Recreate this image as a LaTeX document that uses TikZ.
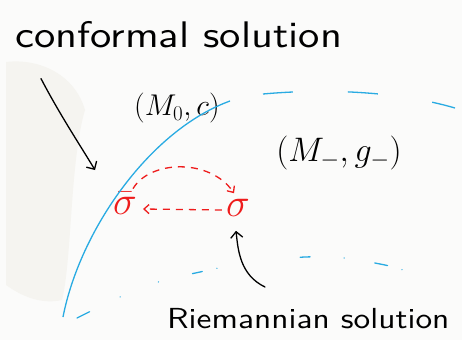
\RequirePackage{fix-cm}
\documentclass[tikz,border=0pt]{standalone}
\usepackage{amsmath,amssymb}
\usepackage{fontspec}
\usepackage{tikz}
\usetikzlibrary{arrows.meta,positioning,calc}
\usepackage{xcolor}

\newfontfamily\handfont[FakeStretch=1.15]{lmsans10-regular.otf}

\definecolor{skyline}{HTML}{29ABE2}
\definecolor{redpen}{HTML}{EE1C1C}
\definecolor{paper}{HTML}{FBFBFA}
\definecolor{smudge}{HTML}{F5F4F0}

\begin{document}
\begin{tikzpicture}[
    x=1pt, y=-1pt,
    hand/.style={font=\handfont\fontsize{#1}{#1}\selectfont, inner sep=0pt, anchor=base west},
    lab/.style={font=\fontsize{#1}{#1}\selectfont, inner sep=0pt},
    ink/.style={black, line width=1.3pt, line cap=round},
    redarrow/.style={redpen, line width=1.3pt, dash pattern=on 7pt off 6pt, -{Straight Barb[length=5pt,width=9pt]}},
    >=Stealth
]
    % paper and smudge
    \fill[paper] (0,0) rectangle (462,340);
    \fill[smudge] (6,62) .. controls (40,58) and (75,75) .. (85,110)
        .. controls (70,160) and (72,260) .. (62,300)
        .. controls (40,305) and (20,295) .. (6,285) -- cycle;
    \useasboundingbox (0,0) rectangle (462,340);

    % texts
    \node[hand=37] (conftext) at (15,47) {conformal solution};
    \node[hand=29] (riemtext) at (167,328) {Riemannian solution};
    \node[lab=30] (mzero) at (177,108) {$(M_0,c)$};
    \node[lab=34] (mminus) at (339,153) {$(M_-,g_-)$};

    % sigmas
    \node[lab=40, text=redpen] (sigbar) at (125,203) {$\bar\sigma$};
    \node[lab=40, text=redpen] (sig) at (238,208) {$\sigma$};

    % boundary of the region
    \draw[skyline, line width=1.3pt] (63,317) .. controls (80,230) and (150,130) .. (230,101);
    \draw[skyline, line width=1.3pt, dash pattern=on 30pt off 55pt]
        (263,94) .. controls (330,88) and (400,92) .. (455,108);
    \draw[skyline, line width=1.3pt, line cap=round, dash pattern=on 14pt off 34pt on 0.1pt off 41pt on 0.1pt off 35pt on 10pt off 15pt on 0.1pt off 84pt on 10pt off 34pt on 0.1pt off 31pt on 13pt off 15pt on 0.1pt off 100pt]
        plot[smooth] coordinates {(77,318) (120,297) (158,282) (200,272) (250,262) (305,257) (344,258) (385,265) (403,270)};

    % pointers
    \coordinate (confend) at (95,170);
    \coordinate (riemstart) at (265,287);
    \draw[ink, -{Straight Barb[length=6pt,width=12pt]}] ($(conftext.south west)+(26,31)$) .. controls (60,115) and (80,145) .. (confend);
    \draw[ink, -{Straight Barb[length=6pt,width=12pt]}] (riemstart) .. controls (240,275) and (238,250) .. ($(sig.south)+(-2,14)$);

    % moves between the sigmas
    \draw[redarrow] ($(sigbar.north)+(8,-3)$) .. controls (150,160) and (210,158) .. ($(sig.north)+(-4,-6)$);
    \draw[redarrow] ($(sig.west)+(-4,2)$) -- ($(sigbar.east)+(6,6)$);
\end{tikzpicture}
\end{document}
